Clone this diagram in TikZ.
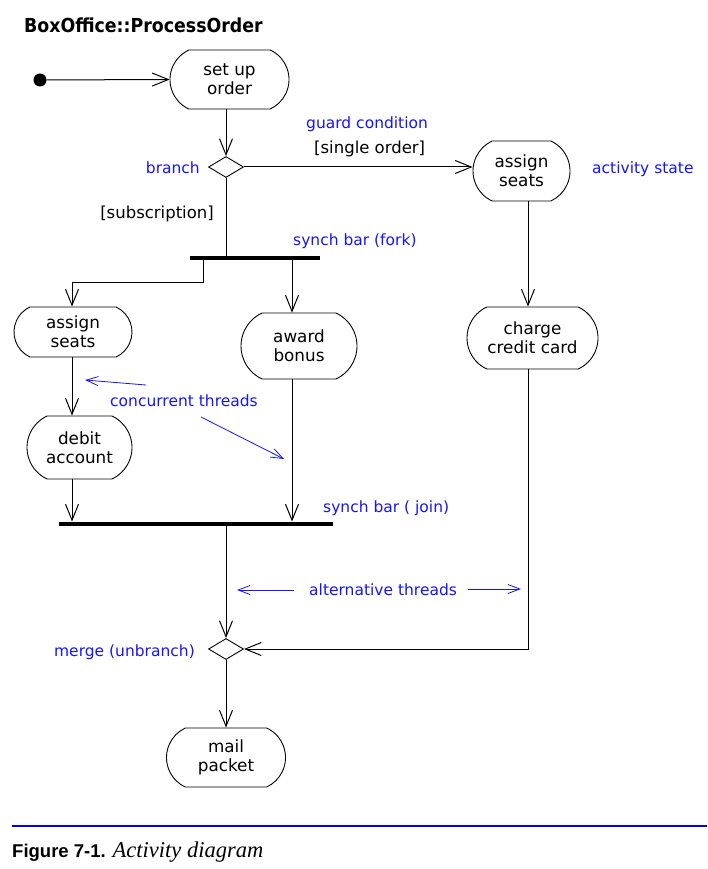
\documentclass[tikz,border=0pt]{standalone}
\usepackage{fontspec}
\usetikzlibrary{arrows.meta,shapes.misc,shapes.geometric}
\newfontfamily\dgfont{DejaVu Sans}
\newfontfamily\dgcond{DejaVu Sans Condensed}
\newfontfamily\capsans{Liberation Sans}
\newfontfamily\capserif{Liberation Serif}
\definecolor{notecol}{RGB}{20,20,255}
\definecolor{rulecol}{RGB}{0,0,235}

\begin{document}
\begin{tikzpicture}[x=1pt,y=-1pt,
  act/.style={rounded rectangle, rounded rectangle arc length=130, draw,
    line width=0.9pt, align=center, inner sep=0pt,
    font=\dgfont\fontsize{16.8}{19}\selectfont},
  bar/.style={fill=black, draw=none, inner sep=0pt, minimum height=4.5pt},
  decision/.style={diamond, draw, line width=0.9pt, inner sep=0pt,
    minimum width=35pt, minimum height=21pt},
  line/.style={line width=1pt},
  flow/.style={line width=1pt, -{Straight Barb[length=16pt,width=13pt]}},
  note/.style={notecol, line width=0.8pt, -{Straight Barb[length=12pt,width=9pt]}},
  guard/.style={inner sep=0pt, font=\dgfont\fontsize{16.5}{19}\selectfont},
  bluelabel/.style={inner sep=0pt, text=notecol, font=\dgfont\fontsize{15.5}{18}\selectfont},
]
\useasboundingbox (0,0) rectangle (707,869);

% title
\node[anchor=base west, inner sep=0pt, font=\dgcond\bfseries\fontsize{19.3}{22}\selectfont]
  (title) at (24,33) {BoxOffice::ProcessOrder};

% activity states
\node[circle, fill=black, inner sep=0pt, minimum size=13pt] (init) at (40,80) {};
\node[act, minimum width=119pt, minimum height=59pt] (setup)   at (229.5,79.5) {set up\\order};
\node[act, minimum width=97pt,  minimum height=60pt] (assignR) at (521.5,171)  {assign\\seats};
\node[act, minimum width=131pt, minimum height=62pt] (charge)  at (532.5,338)  {charge\\credit card};
\node[act, minimum width=118pt, minimum height=50pt] (assignL) at (73,332)     {assign\\seats};
\node[act, minimum width=116pt, minimum height=66pt] (award)   at (299,346)    {award\\bonus};
\node[act, minimum width=105pt, minimum height=63pt] (debit)   at (79.5,447.5) {debit\\account};
\node[act, minimum width=119pt, minimum height=59pt] (mail)    at (226,757.5)  {mail\\packet};

% branch / merge and synch bars
\node[decision] (branch) at (226,167) {};
\node[decision] (merge)  at (226,649) {};
\node[bar, minimum width=130pt] (fork) at (255,258) {};
\node[bar, minimum width=274pt] (join) at (196,524) {};

% columns of the vertical flows
\coordinate (xC) at (226,0);
\coordinate (xF) at (203,0);
\coordinate (xL) at (72,0);
\coordinate (xA) at (292,0);
\coordinate (xR) at (528,0);
\coordinate (yF) at (0,282);

% transitions
\draw[flow] (init) -- (setup.west);
\draw[flow] (setup.south -| xC) -- (branch.north);
\draw[flow] (branch.east) -- (branch.east -| assignR.west);
\draw[line] (branch.south) -- (branch.south |- fork.north);
\draw[flow] (fork.south -| xF) |- (yF -| xL) -- (assignL.north -| xL);
\draw[flow] (fork.south -| xA) -- (award.north -| xA);
\draw[flow] (assignL.south -| xL) -- (debit.north -| xL);
\draw[flow] (debit.south -| xL) -- (join.north -| xL);
\draw[flow] (award.south -| xA) -- (join.north -| xA);
\draw[flow] (assignR.south -| xR) -- (charge.north -| xR);
\draw[flow] (join.south -| xC) -- (merge.north);
\draw[flow] (charge.south -| xR) |- (merge.east);
\draw[flow] (merge.south) -- (mail.north);

% guards
\node[guard, anchor=base west] (gsingle) at (314,154) {[single order]};
\node[guard, anchor=base east] (gsub) at (214,218) {[subscription]};

% annotations
\node[bluelabel, anchor=base east] (lbranch) at (200,174) {branch};
\node[bluelabel, anchor=base west] (lguard) at (306,129) {guard condition};
\node[bluelabel, anchor=base west] (lstate) at (592,173) {activity state};
\node[bluelabel, anchor=base west] (lfork) at (293,245) {synch bar (fork)};
\node[bluelabel, anchor=base west] (ljoin) at (323,512) {synch bar ( join)};
\node[bluelabel, anchor=base west] (lconc) at (110,406) {concurrent threads};
\node[bluelabel, anchor=base west] (lalt) at (309,595) {alternative threads};
\node[bluelabel, anchor=base east] (lmerge) at (195,656) {merge (unbranch)};

\coordinate (c1s) at (146,385);
\coordinate (c1e) at (85,380);
\coordinate (c2s) at (201,417);
\coordinate (c2e) at (284,459);
\coordinate (a1s) at (294,590);
\coordinate (a1e) at (237,590);
\coordinate (a2s) at (468,589);
\coordinate (a2e) at (521,589);
\draw[note] (c1s) -- (c1e);
\draw[note] (c2s) -- (c2e);
\draw[note] (a1s) -- (a1e);
\draw[note] (a2s) -- (a2e);

% caption
\coordinate (rule1) at (12,826);
\coordinate (rule2) at (707,826);
\draw[rulecol, line width=2.5pt] (rule1) -- (rule2);
\node[anchor=base west, inner sep=0pt] (caption) at (12,857)
  {{\capsans\bfseries\fontsize{18.5}{21}\selectfont Figure 7-1.}\hspace{7pt}{\capserif\itshape\fontsize{22.5}{25}\selectfont Activity diagram}};
\end{tikzpicture}
\end{document}
